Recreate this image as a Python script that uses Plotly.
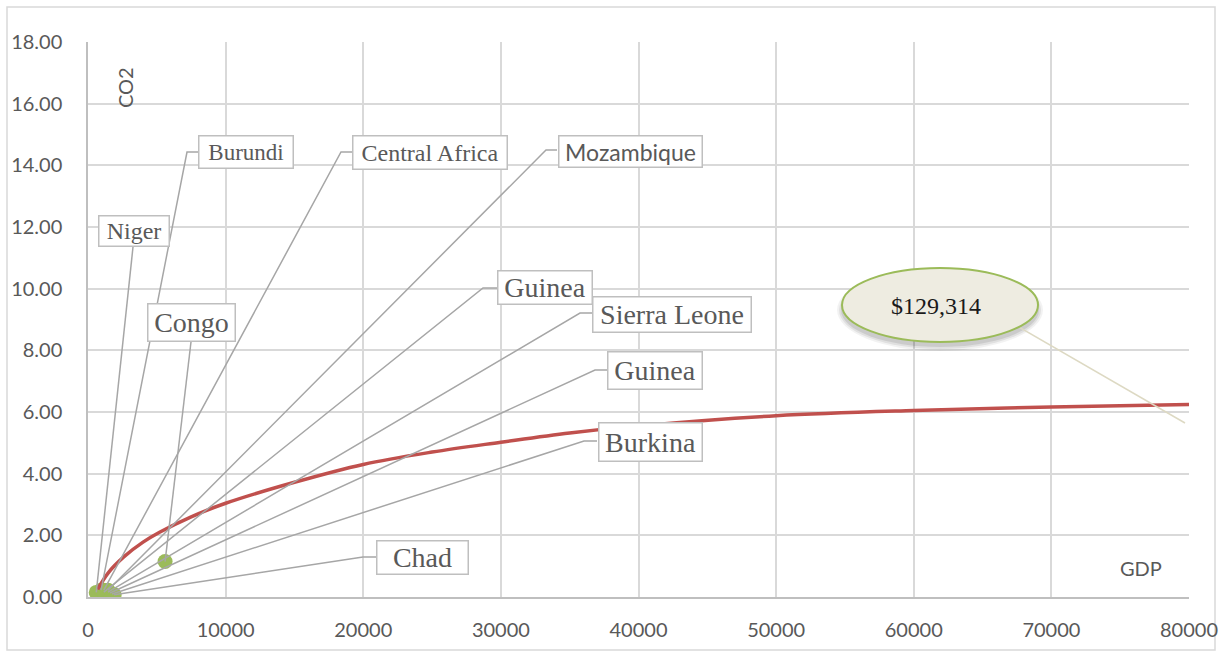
import plotly.graph_objects as go

# ---------------- data ----------------
countries = ["Niger", "Burundi", "Central Africa", "Mozambique", "Guinea",
             "Sierra Leone", "Guinea", "Burkina", "Chad", "Congo"]
gdp = [600, 950, 1150, 1450, 1150, 1450, 1600, 1750, 1900, 5600]
co2 = [0.15, 0.22, 0.22, 0.22, 0.16, 0.16, 0.13, 0.10, 0.07, 1.15]

trend_x = [700, 1500, 2600, 4000, 5200, 7500, 10000, 15000, 20000, 25000,
           30000, 35000, 40000, 50000, 60000, 70000, 80000]
trend_y = [0.25, 0.80, 1.30, 1.78, 2.10, 2.60, 3.04, 3.72, 4.30, 4.70,
           5.02, 5.32, 5.55, 5.88, 6.05, 6.16, 6.24]

callout_text = "$129,314"
x_ticks = [0, 10000, 20000, 30000, 40000, 50000, 60000, 70000, 80000]
y_ticks = [0, 2, 4, 6, 8, 10, 12, 14, 16, 18]

# ---------------- layout helpers (pixel -> data) ----------------
L, R, T, B = 88, 1189, 42, 597
W, H = 1221, 652

def xd(px):
    return (px - L) / (R - L) * 80000

def yd(py):
    return (B - py) / (B - T) * 18

label_style = [
    dict(cx=134, cy=231, w=72, h=32, fs=24, fam="Liberation Serif", lead=[(133, 247)]),
    dict(cx=246, cy=152, w=96, h=34, fs=23, fam="Liberation Serif", lead=[(198, 152), (187, 152)]),
    dict(cx=430, cy=152, w=156, h=35, fs=24, fam="Liberation Serif", lead=[(352, 152), (341, 152)]),
    dict(cx=630, cy=151, w=145, h=33, fs=23, fam="Lato", lead=[(557, 150), (546, 150)]),
    dict(cx=545, cy=287, w=96, h=35, fs=28, fam="Liberation Serif", lead=[(497, 288), (483, 288)]),
    dict(cx=672, cy=314, w=160, h=37, fs=28, fam="Liberation Serif", lead=[(592, 313), (580, 313)]),
    dict(cx=655, cy=370, w=96, h=39, fs=28, fam="Liberation Serif", lead=[(607, 370), (595, 370)]),
    dict(cx=650, cy=442, w=105, h=40, fs=28, fam="Liberation Serif", lead=[(597, 441), (584, 441)]),
    dict(cx=422, cy=557, w=93, h=35, fs=28, fam="Liberation Serif", lead=[(376, 557), (363, 557)]),
    dict(cx=191, cy=322, w=89, h=39, fs=28, fam="Liberation Serif", lead=[(191, 342)]),
]

fig = go.Figure()

fig.add_trace(go.Scatter(
    x=gdp, y=co2, mode="markers",
    marker=dict(color="#9BBB59", size=15),
    hoverinfo="skip", showlegend=False))

fig.add_trace(go.Scatter(
    x=trend_x, y=trend_y, mode="lines", line_shape="spline",
    line=dict(color="#C0504D", width=3.5),
    hoverinfo="skip", showlegend=False))

shapes = []
annotations = []
for name, gx, gy, st in zip(countries, gdp, co2, label_style):
    pts = [(xd(px), yd(py)) for px, py in st["lead"]] + [(gx, gy)]
    path = "M " + " L ".join(f"{a},{b}" for a, b in pts)
    shapes.append(dict(type="path", xref="x", yref="y", path=path,
                       line=dict(color="#A6A6A6", width=1.5), layer="above"))
    annotations.append(dict(
        x=xd(st["cx"]), y=yd(st["cy"]), xref="x", yref="y",
        text=name, showarrow=False, xanchor="center", yanchor="middle",
        width=st["w"] - 3, height=st["h"] - 3, borderpad=0,
        bordercolor="#BFBFBF", borderwidth=1.5, bgcolor="white",
        font=dict(family=st["fam"], size=st["fs"], color="#595959")))

# callout ellipse with soft shadow
ex0, ex1, ey0, ey1 = 842, 1038, 342, 268
for i, op in enumerate([0.05, 0.07, 0.09]):
    d = 7 - 2 * i
    shapes.append(dict(type="circle", xref="x", yref="y",
                       x0=xd(ex0 - d + 2), x1=xd(ex1 + d - 2),
                       y0=yd(ey0 + d + 2), y1=yd(ey1 - d + 8),
                       fillcolor=f"rgba(0,0,0,{op})", line=dict(width=0), layer="above"))
shapes.append(dict(type="path", xref="x", yref="y",
                   path=f"M {xd(1010)},{yd(322)} L {xd(1185)},{yd(423)}",
                   line=dict(color="#DDD9C3", width=1.5), layer="above"))
shapes.append(dict(type="circle", xref="x", yref="y",
                   x0=xd(ex0), x1=xd(ex1), y0=yd(ey0), y1=yd(ey1),
                   fillcolor="#EEECE1", line=dict(color="#9BBB59", width=2), layer="above"))
annotations.append(dict(x=xd(936), y=yd(306), xref="x", yref="y",
                        text=callout_text, showarrow=False,
                        font=dict(family="Liberation Serif", size=24, color="#1a1a1a")))

# axis titles inside plot
annotations.append(dict(x=(125 - L) / (R - L), y=(B - 88) / (B - T), xref="paper", yref="paper",
                        xanchor="center", yanchor="middle",
                        text="CO2", textangle=-90, showarrow=False,
                        font=dict(family="Lato", size=20, color="#595959")))
annotations.append(dict(x=(1141 - L) / (R - L), y=(B - 568) / (B - T), xref="paper", yref="paper",
                        xanchor="center", yanchor="middle",
                        text="GDP", showarrow=False,
                        font=dict(family="Lato", size=20, color="#595959")))

# outer chart border
shapes.append(dict(type="rect", xref="paper", yref="paper",
                   x0=(7 - L) / (R - L), x1=(1215 - L) / (R - L),
                   y0=(B - 650) / (B - T), y1=(B - 7) / (B - T),
                   line=dict(color="#D9D9D9", width=1.5), fillcolor="rgba(0,0,0,0)", layer="below"))

fig.update_layout(
    width=W, height=H,
    margin=dict(l=L, r=W - R, t=T, b=H - B),
    paper_bgcolor="white", plot_bgcolor="white",
    shapes=shapes, annotations=annotations, showlegend=False,
    xaxis=dict(range=[0, 80000], tickvals=x_ticks, ticktext=[str(v) for v in x_ticks],
               showgrid=True, gridcolor="#D9D9D9", gridwidth=1.5, automargin=False,
               showline=True, linecolor="#BFBFBF", linewidth=1.5, zeroline=False,
               ticks="", ticklabelstandoff=14,
               tickfont=dict(family="Lato", size=20, color="#595959")),
    yaxis=dict(range=[0, 18], tickvals=y_ticks, ticktext=[f"{v:.2f}" for v in y_ticks],
               showgrid=True, gridcolor="#D9D9D9", gridwidth=1.5, automargin=False,
               showline=True, linecolor="#BFBFBF", linewidth=1.5, zeroline=False,
               ticks="", ticklabelstandoff=20,
               tickfont=dict(family="Lato", size=20, color="#595959")),
)

fig.write_html("out.html", config={"displayModeBar": False},
               post_script="document.body.style.margin='0px';document.body.style.overflow='hidden';")
